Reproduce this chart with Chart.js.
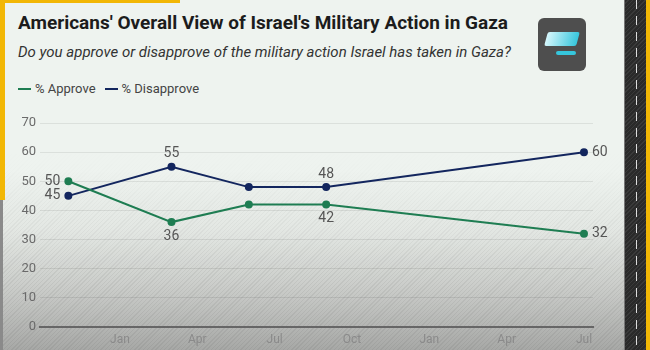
<!DOCTYPE html>
<html>
<head>
<meta charset="utf-8">
<script src="https://cdn.jsdelivr.net/npm/chart.js@4.4.1/dist/chart.umd.min.js"></script>
<style>
  html, body { margin:0; padding:0; }
  body { width:650px; height:350px; overflow:hidden; position:relative;
    font-family: Roboto, "Noto Sans", sans-serif;
    background: linear-gradient(to bottom, #eef3ef 0px, #eef3ef 170px, #e3e7e3 230px, #c9cbc8 290px, #a7a8a6 350px); }
  .hatch { position:absolute; left:0; top:150px; width:650px; height:200px;
    background: repeating-linear-gradient(135deg, rgba(255,255,255,0.0) 0 2px, rgba(0,0,0,0.05) 2px 3px);
    -webkit-mask-image: linear-gradient(to bottom, transparent 0, black 120px);
    mask-image: linear-gradient(to bottom, transparent 0, black 120px);
    pointer-events:none; }
  #title { position:absolute; left:18px; top:11px; font-size:19px; font-weight:700; color:#1c1c1c; white-space:nowrap; }
  #subtitle { position:absolute; left:18px; top:43px; font-size:15px; font-style:italic; color:#333; white-space:nowrap; }
  #legend { position:absolute; left:18px; top:81px; font-size:13px; color:#444; white-space:nowrap; }
  #legend span.item { margin-right:9px; }
  #legend span.sw { display:inline-block; width:13px; height:2px; vertical-align:middle; margin-right:4px; position:relative; top:-1px; }
  #yellowTop { position:absolute; left:0; top:0; width:180px; height:3px; background:#f2b705; }
  #yellowLeft { position:absolute; left:0; top:0; width:5px; height:200px; background:#f2b705; }
  #grayLeft { position:absolute; left:0; top:200px; width:3px; height:150px; background:#8a8a8a; }
  #rightStrip { position:absolute; left:624px; top:0; width:22px; height:350px;
    background: repeating-linear-gradient(135deg, #2a2a2a 0 2px, #3a3a3a 2px 3px); border-left:1px solid #777; }
  #dash { position:absolute; left:636px; top:0; width:1px; height:350px;
    background: repeating-linear-gradient(to bottom, #ddd 0 9px, transparent 9px 16px); }
  #yellowRight { position:absolute; left:646px; top:0; width:4px; height:350px; background:#f2b705; }
  #logo { position:absolute; left:538px; top:18px; width:48px; height:53px; border-radius:6px; background:#4e4e4e; overflow:hidden; }
  #logo .mark { position:absolute; left:8px; top:14px; width:32px; height:14px; background:linear-gradient(to right,#d6f6fb,#36c6dc); transform:skewX(-15deg); border-radius:2px; }
  #logo .sub { position:absolute; left:18px; top:33px; width:20px; height:4px; background:#36c6dc; border-radius:2px; }
  #wrap { position:absolute; left:0; top:100px; width:620px; height:250px; }
</style>
</head>
<body>
<div class="hatch"></div>
<div id="yellowTop"></div>
<div id="yellowLeft"></div>
<div id="grayLeft"></div>
<div id="rightStrip"></div>
<div id="dash"></div>
<div id="yellowRight"></div>
<div id="logo"><div class="mark"></div><div class="sub"></div></div>
<div id="title">Americans' Overall View of Israel's Military Action in Gaza</div>
<div id="subtitle">Do you approve or disapprove of the military action Israel has taken in Gaza?</div>
<div id="legend"><span class="item"><span class="sw" style="background:#1e7d52"></span>% Approve</span><span class="item"><span class="sw" style="background:#13265e"></span>% Disapprove</span></div>
<div id="wrap"><canvas id="c" width="620" height="250"></canvas></div>
<script>
// Survey dates, as months counted from Jan 2023 (Nov 2023, Mar 2024, Jun 2024, Sep 2024, Jul 2025)
const surveyMonths = [10, 14, 17, 20, 30];
const approve = [50, 36, 42, 42, 32];
const disapprove = [45, 55, 48, 48, 60];
// x-axis tick positions (months from Jan 2023) and labels
const tickMonths = [12, 15, 18, 21, 24, 27, 30];
const tickLabels = ['Jan', 'Apr', 'Jul', 'Oct', 'Jan', 'Apr', 'Jul'];
const yTicks = [0, 10, 20, 30, 40, 50, 60, 70];

// label placement per point (null = no label)
const approvePlace = ['left', 'below', null, 'below', 'right'];
const disapprovePlace = ['left', 'above', null, 'above', 'right'];

const GREEN = '#1e7d52';
const NAVY = '#13265e';

const toPts = (vals) => vals.map((v, i) => ({ x: surveyMonths[i], y: v }));

const labelPlugin = {
  id: 'pointLabels',
  afterDatasetsDraw(chart) {
    const ctx = chart.ctx;
    ctx.save();
    ctx.font = '14px Roboto, "Noto Sans", sans-serif';
    ctx.fillStyle = '#555';
    chart.data.datasets.forEach((ds, di) => {
      const meta = chart.getDatasetMeta(di);
      const places = ds.labelPlaces;
      meta.data.forEach((el, i) => {
        const p = places[i];
        if (!p) return;
        const txt = String(ds.data[i].y);
        let x = el.x, y = el.y;
        if (p === 'left') { ctx.textAlign = 'right'; ctx.textBaseline = 'middle'; x -= 8; }
        else if (p === 'right') { ctx.textAlign = 'left'; ctx.textBaseline = 'middle'; x += 8; }
        else if (p === 'above') { ctx.textAlign = 'center'; ctx.textBaseline = 'bottom'; y -= 6; }
        else { ctx.textAlign = 'center'; ctx.textBaseline = 'top'; y += 7; }
        ctx.fillText(txt, x, y);
      });
    });
    ctx.restore();
  }
};

new Chart(document.getElementById('c'), {
  type: 'line',
  data: {
    datasets: [
      { label: '% Approve', data: toPts(approve), labelPlaces: approvePlace,
        borderColor: GREEN, backgroundColor: GREEN, borderWidth: 2, pointRadius: 3, pointHoverRadius: 3, tension: 0 },
      { label: '% Disapprove', data: toPts(disapprove), labelPlaces: disapprovePlace,
        borderColor: NAVY, backgroundColor: NAVY, borderWidth: 2, pointRadius: 3, pointHoverRadius: 3, tension: 0 }
    ]
  },
  options: {
    responsive: false,
    animation: false,
    events: [],
    layout: { padding: { left: 0, right: 27, top: 23, bottom: 0 } },
    plugins: { legend: { display: false }, tooltip: { enabled: false } },
    scales: {
      x: {
        type: 'linear', min: 8.9, max: 30.35,
        afterBuildTicks: (s) => { s.ticks = tickMonths.map(v => ({ value: v })); },
        afterFit: (s) => { s.height = 23; },
        ticks: {
          autoSkip: false, maxRotation: 0, padding: 6,
          color: '#8a8a8a', font: { size: 12, family: 'Roboto, "Noto Sans", sans-serif' },
          callback: (v) => { const i = tickMonths.indexOf(v); return i >= 0 ? tickLabels[i] : ''; }
        },
        grid: { display: false, drawTicks: false },
        border: { display: true, color: '#666', width: 2 }
      },
      y: {
        min: 0, max: 70,
        afterBuildTicks: (s) => { s.ticks = yTicks.map(v => ({ value: v })); },
        afterFit: (s) => { s.width = 40; },
        ticks: { padding: 4, color: '#6a6a6a', font: { size: 13, family: 'Roboto, "Noto Sans", sans-serif' } },
        grid: { color: (c) => c.tick && c.tick.value === 0 ? 'rgba(0,0,0,0)' : 'rgba(0,0,0,0.08)', drawTicks: false, lineWidth: 1 },
        border: { display: false }
      }
    }
  },
  plugins: [labelPlugin]
});
</script>
</body>
</html>
